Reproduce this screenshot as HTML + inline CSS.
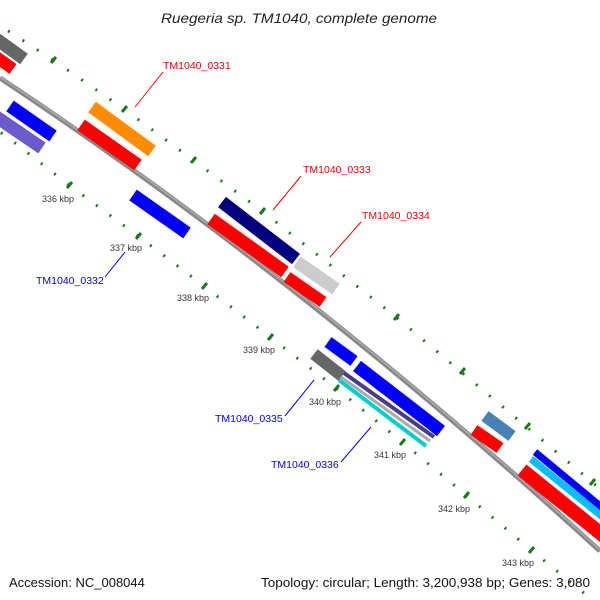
<!DOCTYPE html>
<html><head><meta charset="utf-8"><style>
body{margin:0;background:#fff;}
svg{display:block;font-family:"Liberation Sans","DejaVu Sans",sans-serif;}
</style></head><body>
<svg width="600" height="600" viewBox="0 0 600 600" xmlns="http://www.w3.org/2000/svg">
<text x="161" y="23" font-size="14" font-style="italic" fill="#222" textLength="276" lengthAdjust="spacingAndGlyphs">Ruegeria sp. TM1040, complete genome</text>

<!-- tick tracks -->
<g stroke="#1a7a1a" fill="none" stroke-width="3">
  <path d="M53,60 L124,109 L262,211 L396,317 L592,482 L600,489" stroke-dasharray="2 15.2" />
  <path d="M53,60 L10,32 L0,26" stroke-dasharray="2 15.2" />
  <path d="M69,185 L138,236 L204,286 L270,337 L336,388 L402,442 L466,495 L531,550 L590,598" stroke-dasharray="2 14.8"/>
  <path d="M69,185 L15,143 L0,132" stroke-dasharray="2 14.8"/>
</g>
<g stroke="#1a7a1a" stroke-width="3">
  <line x1="51" y1="63" x2="56" y2="57"/><line x1="122" y1="112" x2="127" y2="106"/>
  <line x1="191" y1="163" x2="196" y2="157"/><line x1="260" y1="214" x2="265" y2="208"/>
  <line x1="394" y1="320" x2="399" y2="314"/><line x1="460" y1="374" x2="465" y2="368"/>
  <line x1="525" y1="429" x2="530" y2="423"/><line x1="590" y1="485" x2="595" y2="479"/>
  <line x1="67" y1="188" x2="72" y2="182"/><line x1="136" y1="239" x2="141" y2="233"/>
  <line x1="202" y1="289" x2="207" y2="283"/><line x1="268" y1="340" x2="273" y2="334"/>
  <line x1="334" y1="391" x2="339" y2="385"/><line x1="400" y1="445" x2="405" y2="439"/>
  <line x1="464" y1="498" x2="469" y2="492"/><line x1="529" y1="553" x2="534" y2="547"/>
</g>
<g font-size="9" fill="#333">
  <text x="42" y="202">336 kbp</text><text x="110" y="251">337 kbp</text>
  <text x="177" y="301">338 kbp</text><text x="243" y="353">339 kbp</text>
  <text x="309" y="405">340 kbp</text><text x="374" y="458">341 kbp</text>
  <text x="438" y="512">342 kbp</text><text x="502" y="566">343 kbp</text>
</g>

<!-- backbone -->
<path d="M0,78 Q300,277 600,551" stroke="#888" stroke-width="5" fill="none"/>
<path d="M0,77 Q300,276 600,550" stroke="#aaa" stroke-width="1.5" fill="none"/>

<!-- outer features -->
<g stroke-linecap="butt" fill="none">
  <line x1="-5" y1="38" x2="24" y2="59" stroke="#666" stroke-width="13"/>
  <line x1="-5" y1="56" x2="13" y2="69" stroke="#f00" stroke-width="12"/>
  <line x1="92" y1="107" x2="152" y2="151" stroke="#ff8c00" stroke-width="13"/>
  <line x1="81" y1="125" x2="138" y2="165" stroke="#f00" stroke-width="13"/>
  <line x1="222" y1="202" x2="296" y2="259" stroke="#000080" stroke-width="13"/>
  <line x1="211" y1="219" x2="285" y2="272" stroke="#f00" stroke-width="13"/>
  <line x1="297" y1="262" x2="336" y2="289" stroke="#ccc" stroke-width="13"/>
  <line x1="287" y1="277" x2="323" y2="302" stroke="#f00" stroke-width="12"/>
  <line x1="485" y1="416" x2="512" y2="436" stroke="#4682b4" stroke-width="12"/>
  <line x1="474" y1="430" x2="500" y2="448" stroke="#f00" stroke-width="12"/>
  <line x1="535" y1="452" x2="605" y2="510" stroke="#00f" stroke-width="7"/>
  <line x1="531" y1="459" x2="605" y2="519" stroke="#00bfff" stroke-width="7"/>
  <line x1="522" y1="470" x2="605" y2="537" stroke="#f00" stroke-width="14"/>
</g>
<!-- inner features -->
<g stroke-linecap="butt" fill="none">
  <line x1="10" y1="106" x2="53" y2="136" stroke="#00f" stroke-width="13"/>
  <line x1="-5" y1="116" x2="42" y2="148" stroke="#6a5acd" stroke-width="13"/>
  <line x1="133" y1="195" x2="187" y2="233" stroke="#00f" stroke-width="13"/>
  <line x1="328" y1="342" x2="354" y2="361" stroke="#00f" stroke-width="12"/>
  <line x1="357" y1="366" x2="441" y2="431" stroke="#00f" stroke-width="13"/>
  <line x1="314" y1="354" x2="342" y2="376" stroke="#666" stroke-width="12"/>
  <line x1="344" y1="373" x2="434" y2="437" stroke="#483d8b" stroke-width="4"/>
  <line x1="341" y1="377" x2="430" y2="441" stroke="#aaa" stroke-width="3"/>
  <line x1="339" y1="380" x2="426" y2="446" stroke="#00ced1" stroke-width="4"/>
</g>

<!-- labels -->
<g font-size="10.5">
  <text x="163" y="69" fill="#f00">TM1040_0331</text>
  <line x1="163" y1="72" x2="135" y2="107" stroke="#f00"/>
  <text x="303" y="173" fill="#f00">TM1040_0333</text>
  <line x1="301" y1="176" x2="273" y2="210" stroke="#f00"/>
  <text x="362" y="219" fill="#f00">TM1040_0334</text>
  <line x1="361" y1="222" x2="330" y2="257" stroke="#f00"/>
  <text x="36" y="284" fill="#00f">TM1040_0332</text>
  <line x1="105" y1="277" x2="125" y2="252" stroke="#00f"/>
  <text x="215" y="422" fill="#00f">TM1040_0335</text>
  <line x1="285" y1="416" x2="314" y2="380" stroke="#00f"/>
  <text x="271" y="468" fill="#00f">TM1040_0336</text>
  <line x1="341" y1="462" x2="371" y2="427" stroke="#00f"/>
</g>

<text x="9" y="587" font-size="13" fill="#111">Accession: NC_008044</text>
<text x="261" y="587" font-size="13" fill="#111" textLength="329" lengthAdjust="spacingAndGlyphs">Topology: circular; Length: 3,200,938 bp; Genes: 3,080</text>
</svg>
</body></html>
